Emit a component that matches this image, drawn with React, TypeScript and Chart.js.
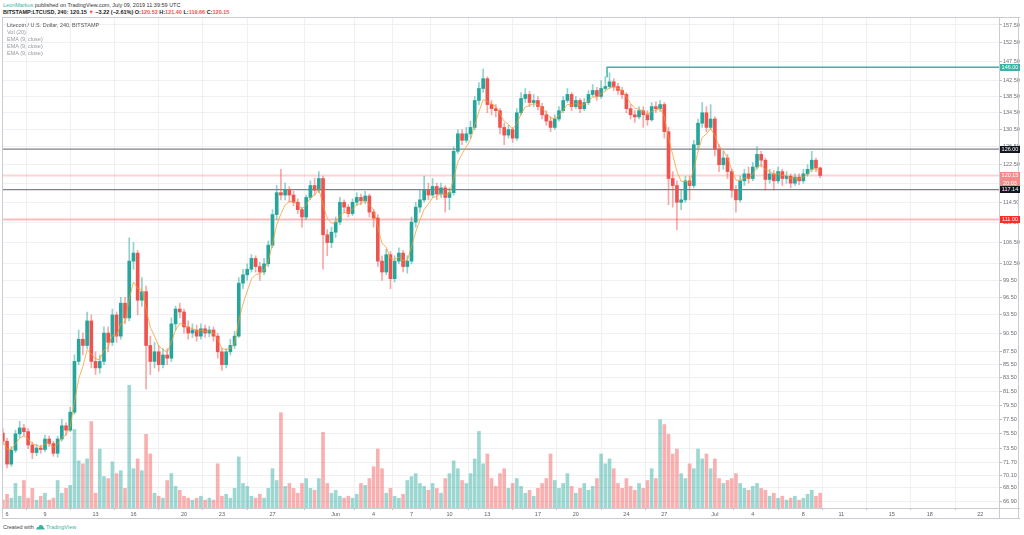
import React, { useEffect, useRef } from "react";
import { Chart, registerables } from "chart.js";
Chart.register(...registerables);

// ---- DATA (LTC/USD, 8h candles; day 0 = May 6) ----
const FIRST_OPEN = 75.6;
const START_DAY = -1 / 3;
const CANDLES_PER_DAY = 3;

const closes = [
  74.5, 71.5, 73.3, 75.5, 76.3, 75.8, 74.0, 73.0, 73.6, 73.4,
  74.8, 74.2, 72.9, 74.8, 76.6, 76.0, 78.5, 86.0, 89.5, 88.5,
  92.5, 86.0, 85.0, 86.0, 90.5, 89.0, 93.5, 90.0, 95.5, 93.0,
  103.0, 104.5, 96.0, 97.5, 88.5, 86.0, 87.5, 85.5, 87.0, 86.5,
  92.0, 94.5, 94.0, 91.5, 90.5, 91.0, 90.0, 91.2, 90.5, 91.0,
  90.0, 87.5, 85.5, 87.5, 88.5, 90.0, 99.0, 100.5, 101.5, 103.5,
  102.0, 101.0, 102.5, 106.0, 112.0, 116.5, 116.0, 117.2, 116.0, 114.5,
  113.0, 111.5, 115.5, 118.0, 117.0, 119.5, 108.0, 106.5, 108.5, 110.5,
  114.5, 113.5, 112.2, 114.5, 115.5, 114.8, 115.8, 112.5, 111.3, 103.0,
  101.0, 104.2, 99.8, 103.0, 104.5, 102.0, 103.0, 110.5, 113.5, 115.0,
  117.0, 116.0, 117.8, 116.2, 117.5, 115.5, 116.5, 125.5, 129.5, 128.0,
  129.5, 131.0, 137.5, 140.5, 143.0, 136.5, 135.5, 135.0, 131.0, 129.2,
  130.5, 128.5, 134.5, 138.0, 139.0, 137.0, 137.5, 136.0, 134.0, 132.5,
  131.0, 133.0, 135.0, 137.5, 139.0, 136.0, 137.5, 135.5, 137.0, 139.0,
  140.0, 138.5, 140.5, 141.0, 142.2, 141.0, 140.0, 139.0, 135.5, 134.0,
  133.5, 135.0, 134.0, 132.8, 136.0, 135.5, 136.5, 130.0, 119.5, 118.0,
  114.5, 115.0, 119.0, 118.0, 127.0, 132.0, 134.5, 131.0, 133.0, 126.0,
  122.5, 124.0, 121.0, 117.0, 115.0, 119.0, 120.5, 119.5, 122.0, 124.8,
  123.5, 119.3, 120.5, 119.0, 121.0, 119.5, 120.0, 118.5, 119.8, 119.0,
  120.5, 121.5, 123.5, 121.8, 120.15,
];

const highs = [
  76.2, 74.9, 73.8, 76.0, 77.2, 76.8, 76.2, 74.4, 74.1, 74.0,
  75.3, 75.2, 74.5, 75.2, 77.5, 77.0, 79.2, 87.0, 91.0, 90.5,
  94.0, 93.5, 87.5, 87.0, 91.5, 91.5, 94.5, 94.0, 96.5, 96.5,
  107.4, 106.5, 105.0, 100.0, 98.5, 90.0, 89.0, 88.5, 88.0, 88.0,
  93.0, 95.0, 95.5, 94.5, 92.5, 92.0, 91.8, 92.0, 91.8, 91.6,
  91.5, 90.5, 88.0, 88.0, 89.5, 90.8, 100.0, 101.5, 102.5, 104.2,
  104.0, 102.8, 103.5, 106.8, 113.0, 118.0, 121.5, 118.5, 117.8, 116.8,
  115.2, 113.5, 116.0, 119.0, 119.5, 121.0, 120.0, 109.0, 109.5, 111.5,
  115.5, 115.0, 114.0, 115.2, 116.5, 116.2, 116.8, 116.2, 113.0, 112.0,
  104.0, 105.2, 104.8, 104.0, 105.5, 105.0, 104.0, 111.5, 114.5, 117.0,
  120.0, 118.5, 119.5, 118.5, 118.5, 118.0, 117.5, 126.5, 130.5, 130.5,
  131.0, 132.5, 138.5, 142.0, 145.5, 143.5, 137.5, 136.5, 135.5, 132.0,
  131.5, 131.0, 135.5, 139.5, 140.5, 139.8, 139.0, 138.5, 136.8, 135.0,
  133.5, 134.0, 136.0, 138.5, 140.5, 139.5, 138.5, 138.0, 138.0, 140.0,
  141.5, 140.8, 142.5, 143.5, 144.5, 143.0, 141.8, 140.8, 139.5, 136.5,
  135.0, 136.0, 136.0, 135.0, 137.0, 137.2, 137.5, 137.0, 131.0, 121.0,
  119.0, 117.0, 120.0, 120.0, 128.0, 133.0, 137.0, 136.0, 136.5, 133.5,
  127.0, 125.5, 124.8, 121.5, 118.0, 120.0, 121.5, 122.0, 123.0, 126.5,
  125.5, 124.0, 121.5, 121.2, 122.0, 121.5, 121.0, 120.5, 120.5, 120.5,
  121.5, 122.5, 125.5, 124.0, 122.0,
];

const lows = [
  74.0, 71.0, 71.2, 73.0, 75.0, 75.2, 73.5, 72.2, 72.6, 72.9,
  73.1, 73.8, 72.5, 72.4, 74.5, 75.3, 75.8, 78.2, 85.5, 87.0,
  88.0, 85.0, 84.0, 84.2, 85.5, 87.5, 88.5, 89.0, 89.5, 92.0,
  92.5, 101.5, 93.5, 95.0, 81.8, 84.0, 85.0, 84.5, 85.0, 85.5,
  86.0, 91.0, 93.0, 90.5, 89.5, 89.8, 89.2, 89.5, 89.8, 89.9,
  89.2, 86.5, 84.6, 85.0, 87.0, 88.0, 89.8, 98.0, 99.5, 101.0,
  101.0, 99.5, 100.5, 102.0, 105.5, 111.0, 115.0, 115.0, 114.5, 113.8,
  112.2, 109.5, 111.0, 115.0, 116.0, 116.5, 101.5, 104.0, 105.5, 107.5,
  110.0, 112.5, 111.5, 111.8, 113.8, 114.0, 114.2, 111.5, 109.5, 102.0,
  99.5, 100.5, 98.0, 99.2, 102.5, 101.0, 100.8, 102.5, 109.5, 112.5,
  114.5, 115.0, 115.5, 115.0, 115.5, 112.5, 113.0, 116.0, 125.0, 127.0,
  127.5, 128.5, 130.5, 136.5, 139.5, 134.5, 134.0, 133.5, 129.5, 127.0,
  128.5, 127.5, 128.0, 134.0, 137.0, 136.0, 136.0, 135.2, 133.0, 131.5,
  130.0, 130.5, 132.5, 134.5, 137.0, 135.0, 135.5, 134.5, 135.0, 136.5,
  138.5, 137.5, 138.0, 140.0, 140.5, 140.0, 139.0, 138.0, 134.5, 133.0,
  132.2, 133.0, 131.0, 131.5, 132.5, 134.5, 134.8, 128.5, 114.0, 113.5,
  109.0, 113.0, 114.5, 115.0, 117.5, 126.0, 131.0, 130.0, 130.5, 124.5,
  121.0, 121.5, 119.5, 115.5, 112.5, 114.5, 118.0, 118.5, 119.0, 121.5,
  122.0, 117.0, 118.5, 117.0, 118.5, 118.0, 118.5, 117.5, 118.0, 118.2,
  118.5, 120.0, 121.0, 121.0, 119.66,
];

const volumes = [
  8, 14, 10, 25, 12, 28, 10, 20, 8, 12,
  15, 8, 10, 28, 15, 20, 23, 80, 48, 45,
  50, 88, 15, 60, 32, 30, 47, 35, 38, 20,
  125, 40, 50, 38, 75, 55, 15, 12, 10, 28,
  35, 22, 18, 12, 10, 8, 10, 12, 8, 10,
  8, 45, 12, 14, 10, 20, 52, 25, 22, 12,
  10, 14, 10, 20, 40, 28, 97, 22, 25, 20,
  15, 25, 30, 20, 18, 30, 77, 25, 15, 18,
  12, 10, 12, 10, 14, 25, 23, 30, 42, 60,
  40, 15, 20, 12, 10, 14, 28, 32, 35, 25,
  22, 18, 25, 20, 15, 30, 35, 48, 40, 28,
  25, 35, 50, 78, 45, 55, 30, 22, 35, 40,
  20, 25, 30, 22, 15, 18, 12, 20, 25, 30,
  55, 28, 20, 25, 35, 22, 15, 20, 25, 18,
  22, 30, 55, 45, 50, 40, 25, 20, 30, 22,
  18, 25, 20, 28, 40, 30, 90, 85, 75, 55,
  60, 35, 30, 45, 40, 60, 50, 55, 40, 50,
  30, 25, 28, 30, 35, 25, 20, 18, 22, 25,
  20, 18, 12, 15, 10, 12, 8, 10, 12, 8,
  10, 14, 18, 12, 15,
];

const tickDays = [0, 3, 7, 10, 14, 17, 21, 26, 29, 32, 35, 38, 42, 45, 49, 52, 56, 59, 63, 66, 70, 73, 77];
const tickLabels = ["6", "9", "13", "16", "20", "23", "27", "Jun", "4", "7", "10", "13", "17", "20", "24", "27", "Jul", "4", "8", "11", "15", "18", "22"];
const priceTicks = [157.5, 152.5, 147.5, 142.5, 138.5, 134.5, 130.5, 126.5, 122.5, 118.5, 114.5, 110.5, 106.5, 102.5, 99.5, 96.5, 93.5, 90.5, 87.5, 85.5, 83.5, 81.5, 79.5, 77.5, 75.5, 73.5, 71.7, 70.1, 68.5, 66.9];

const levelPrices = [126.0, 117.14, 111.0, 120.15];
const levelColors = ["#7f828a", "#7f828a", "rgba(255,60,60,0.35)", "rgba(239,83,80,0.25)"];
const levelWidths = [1.2, 1.2, 2, 2];

const resistDays = [47.47, 47.47, 78.5];
const resistPrices = [143.4, 146.0, 146.0];

const badgeValues = [146.0, 126.0, 120.15, 120.15, 117.14, 111.0];
const badgeTexts = ["146.00", "126.00", "120.15", "20:03", "117.14", "111.00"];
const badgeShift = [0, 0, 0, 7.5, 0, 0];
const badgeColors = ["#3bb3a4", "#131722", "#f28b8b", "#f28b8b", "#131722", "#ff2a2a"];

const EMA_ALPHA = 0.36; // EMA(9) on 4h bars expressed per 8h bar

const X_MIN = -0.4;
const X_MAX = 78.48;
const Y_MIN = 66.07;
const Y_MAX = 159.78;
const VOL_MAX = 500;

const FONT = '"Liberation Sans", Arial, sans-serif';
const UP = "#26a69a";
const DOWN = "#ef5350";

export default function App() {
  const ref = useRef<HTMLCanvasElement | null>(null);

  useEffect(() => {
    if (!ref.current) return;
    const opens = [FIRST_OPEN, ...closes.slice(0, -1)];
    const days = closes.map((_, i) => START_DAY + i / CANDLES_PER_DAY);
    const isUp = closes.map((c, i) => c >= opens[i]);
    const ema: number[] = [];
    closes.forEach((c, i) => {
      ema.push(i === 0 ? c : ema[i - 1] + EMA_ALPHA * (c - ema[i - 1]));
    });

    const framePlugin = {
      id: "frame",
      afterDraw(chart: any) {
        const { ctx, chartArea: ca, scales } = chart;
        const W = chart.width;
        const H = chart.height;
        ctx.save();
        ctx.strokeStyle = "#c9ccd2";
        ctx.lineWidth = 1;
        ctx.beginPath();
        ctx.moveTo(0.5, 0); ctx.lineTo(0.5, H);
        ctx.moveTo(0, 0.5); ctx.lineTo(W, 0.5);
        ctx.moveTo(ca.right + 0.5, 0); ctx.lineTo(ca.right + 0.5, H);
        ctx.moveTo(0, ca.bottom + 0.5); ctx.lineTo(W, ca.bottom + 0.5);
        ctx.moveTo(0, H - 0.5); ctx.lineTo(W, H - 0.5);
        ctx.moveTo(W - 1.5, 0); ctx.lineTo(W - 1.5, H);
        ctx.stroke();
        ctx.font = "5.5px " + FONT;
        ctx.textAlign = "center";
        ctx.textBaseline = "middle";
        badgeValues.forEach((v, i) => {
          const y = scales.y.getPixelForValue(v) + badgeShift[i];
          ctx.fillStyle = badgeColors[i];
          ctx.fillRect(ca.right + 1, Math.round(y - 3.5), W - ca.right - 1, 7);
          ctx.fillStyle = "#ffffff";
          ctx.fillText(badgeTexts[i], (ca.right + W) / 2 + 0.5, y + 0.3);
        });
        ctx.restore();
      },
    };

    const levelSets = levelPrices.map((p, i) => ({
      type: "line",
      data: [{ x: X_MIN, y: p }, { x: X_MAX, y: p }],
      borderColor: levelColors[i],
      borderWidth: levelWidths[i],
      pointRadius: 0,
      yAxisID: "y",
      order: 6,
    }));

    const noPad = (s: any) => {
      s.paddingTop = 0;
      s.paddingBottom = 0;
      s.paddingLeft = 0;
      s.paddingRight = 0;
    };

    const chart = new Chart(ref.current, {
      type: "bar",
      data: {
        datasets: [
          {
            type: "bar",
            data: days.map((d, i) => ({ x: d, y: volumes[i] })),
            backgroundColor: isUp.map((u) => (u ? "rgba(38,166,154,0.45)" : "rgba(239,83,80,0.45)")),
            barThickness: 3,
            grouped: false,
            yAxisID: "vol",
            order: 10,
          },
          ...levelSets,
          {
            type: "line",
            data: resistDays.map((d, i) => ({ x: d, y: resistPrices[i] })),
            borderColor: "#3bb3a4",
            borderWidth: 1.5,
            pointRadius: 0,
            yAxisID: "y",
            order: 5,
          },
          {
            type: "bar",
            data: days.map((d, i) => ({ x: d, y: [lows[i], highs[i]] })),
            backgroundColor: isUp.map((u) => (u ? "rgba(38,166,154,0.5)" : "rgba(239,83,80,0.5)")),
            barThickness: 1,
            grouped: false,
            yAxisID: "y",
            order: 3,
          },
          {
            type: "bar",
            data: days.map((d, i) => ({ x: d, y: [opens[i], closes[i]] })),
            backgroundColor: isUp.map((u) => (u ? UP : DOWN)),
            barThickness: 3,
            minBarLength: 1,
            grouped: false,
            yAxisID: "y",
            order: 2,
          },
          {
            type: "line",
            data: days.map((d, i) => ({ x: d, y: ema[i] })),
            borderColor: "rgba(247,155,40,0.75)",
            borderWidth: 1,
            pointRadius: 0,
            tension: 0,
            yAxisID: "y",
            order: 1,
          },
        ] as any,
      },
      options: {
        animation: false,
        responsive: false,
        maintainAspectRatio: false,
        layout: { padding: 0 },
        plugins: { legend: { display: false }, tooltip: { enabled: false } },
        scales: {
          x: {
            type: "linear",
            min: X_MIN,
            max: X_MAX,
            offset: false,
            afterBuildTicks: (s: any) => {
              s.ticks = tickDays.map((v) => ({ value: v }));
            },
            afterFit: (s: any) => {
              s.height = 11;
              noPad(s);
            },
            grid: { color: "#eef0f4", drawTicks: true, tickLength: 2, tickColor: "#b9bcc3" },
            border: { display: false },
            ticks: {
              autoSkip: false,
              maxRotation: 0,
              padding: 1,
              color: "#5d6068",
              font: { size: 5.5, family: FONT },
              callback: (v: any) => {
                const k = tickDays.indexOf(Number(v));
                return k >= 0 ? tickLabels[k] : "";
              },
            },
          },
          y: {
            type: "logarithmic",
            position: "right",
            min: Y_MIN,
            max: Y_MAX,
            afterBuildTicks: (s: any) => {
              s.ticks = priceTicks.map((v) => ({ value: v }));
            },
            afterFit: (s: any) => {
              s.width = 21;
              noPad(s);
            },
            grid: { color: "#eef0f4", drawTicks: true, tickLength: 3, tickColor: "#b9bcc3" },
            border: { display: false },
            ticks: {
              autoSkip: false,
              padding: 1,
              color: "#6a6d76",
              font: { size: 5.5, family: FONT },
              callback: (v: any) => Number(v).toFixed(2),
            },
          },
          vol: { type: "linear", display: false, min: 0, max: VOL_MAX },
        },
      } as any,
      plugins: [framePlugin],
    });
    return () => chart.destroy();
  }, []);

  const base: React.CSSProperties = {
    position: "absolute",
    fontFamily: FONT,
    fontSize: "5.5px",
    lineHeight: "7px",
    whiteSpace: "nowrap",
  };
  const red = { color: "#ef5350" };

  return (
    <div style={{ position: "fixed", left: 0, top: 0, width: 1024, height: 535, background: "#fff", overflow: "hidden" }}>
      <div style={{ ...base, left: 3, top: 1.5, color: "#333" }}>
        <span style={{ color: "#3bb3a4" }}>LeonMarkus</span> published on TradingView.com, July 09, 2019 11:39:59 UTC
      </div>
      <div style={{ ...base, left: 3, top: 8.8, color: "#222", fontWeight: "bold" }}>
        BITSTAMP:LTCUSD, 240: 120.15 <span style={red}>▼</span> −3.22 (−2.61%) O:<span style={red}>120.52</span> H:<span style={red}>121.40</span> L:<span style={red}>119.66</span> C:<span style={red}>120.15</span>
      </div>
      <canvas ref={ref} width={1018} height={502} style={{ position: "absolute", left: 2, top: 17, width: 1018, height: 502 }} />
      <div style={{ ...base, left: 7, top: 21.5, color: "#555" }}>Litecoin / U.S. Dollar, 240, BITSTAMP</div>
      <div style={{ ...base, left: 7, top: 28.5, color: "#9598a1" }}>Vol (20)</div>
      <div style={{ ...base, left: 7, top: 35.5, color: "#9598a1" }}>EMA (9, close)</div>
      <div style={{ ...base, left: 7, top: 42.5, color: "#9598a1" }}>EMA (9, close)</div>
      <div style={{ ...base, left: 7, top: 49.5, color: "#9598a1" }}>EMA (9, close)</div>
      <div style={{ ...base, left: 3, top: 523.5, color: "#444", display: "flex", alignItems: "center" }}>
        <span>Created with</span>
        <svg width="9" height="6" viewBox="0 0 9 6" style={{ margin: "0 1px 0 2px" }}>
          <path d="M1 5.5 Q0 5.5 0.5 4 Q1 2.5 2.5 3 Q3 0.5 5.5 1 Q7.5 1.5 7.5 3.5 Q9 3.8 8.5 5.5 Z" fill="#3bb3a4" />
        </svg>
        <span style={{ color: "#3bb3a4" }}>TradingView</span>
      </div>
    </div>
  );
}
